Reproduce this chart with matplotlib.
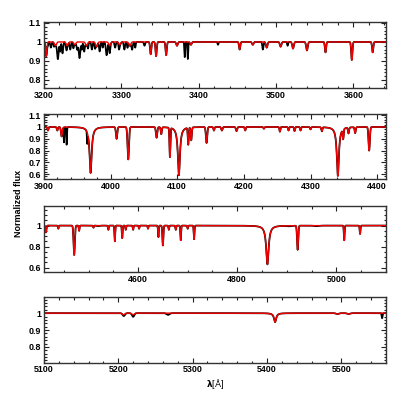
import numpy as np
import matplotlib.pyplot as plt
from matplotlib.ticker import MultipleLocator, FuncFormatter

plt.rcParams['font.family'] = ['Liberation Sans', 'DejaVu Sans']
plt.rcParams['font.weight'] = 'bold'
plt.rcParams['font.size'] = 6.4

# panel ranges
x_lo = [3200, 3900, 4410, 5100]
x_hi = [3642, 4413, 5100, 5560]
y_lo = [0.758, 0.558, 0.559, 0.707]
y_hi = [1.103, 1.11, 1.187, 1.095]
x_major = [100, 100, 200, 100]
x_minor = [20, 20, 50, 20]
y_major = [0.1, 0.1, 0.2, 0.1]
y_minor = [0.02, 0.02, 0.05, 0.02]

# model (red) lines: centre [A], depth, width [A], shape g=gauss l=lorentz
p1_wl = [3203, 3215, 3230, 3240, 3255, 3268, 3285, 3298, 3311, 3338, 3345,
         3358, 3372, 3390, 3453, 3470, 3488, 3506, 3522, 3540, 3564, 3598, 3625]
p1_dep = [0.075, 0.02, 0.02, 0.015, 0.02, 0.025, 0.02, 0.015, 0.02, 0.065,
          0.075, 0.07, 0.02, 0.015, 0.04, 0.015, 0.03, 0.025, 0.035, 0.045,
          0.055, 0.095, 0.055]
p1_wid = [0.8, 1.2, 1.2, 1.2, 1.2, 1.2, 1.2, 1.2, 1.2, 0.8, 0.8,
          0.8, 1.0, 1.0, 0.8, 1.0, 1.0, 1.0, 1.0, 1.0, 0.8, 0.8, 0.8]
p1_shape = ['g'] * len(p1_wl)

p2_wl = [3906, 3920, 3926.5, 3970, 4009, 4026.5, 4069, 4076, 4089, 4102.5,
         4116.5, 4121, 4144, 4155, 4167, 4189, 4202, 4230, 4254, 4267, 4276,
         4285, 4300, 4317, 4341, 4349, 4357, 4367, 4388]
p2_dep = [0.03, 0.03, 0.08, 0.39, 0.10, 0.275, 0.09, 0.06, 0.25, 0.41,
          0.145, 0.11, 0.135, 0.03, 0.03, 0.035, 0.03, 0.015, 0.04, 0.03, 0.035,
          0.03, 0.02, 0.035, 0.415, 0.085, 0.05, 0.05, 0.20]
p2_wid = [0.8, 0.8, 1.0, 1.9, 1.0, 1.1, 1.0, 0.8, 0.7, 1.9,
          0.7, 0.8, 1.0, 0.8, 1.0, 1.0, 0.8, 0.8, 0.7, 0.7, 0.7,
          0.7, 0.8, 0.8, 1.9, 0.7, 0.8, 0.8, 1.0]
p2_shape = ['g', 'g', 'g', 'l', 'g', 'g', 'g', 'g', 'g', 'l',
            'g', 'g', 'g', 'g', 'g', 'g', 'g', 'g', 'g', 'g', 'g',
            'g', 'g', 'g', 'l', 'g', 'g', 'g', 'g']

p3_wl = [4414, 4439, 4471, 4481, 4510, 4540, 4553, 4568, 4575, 4590, 4602,
         4620, 4641, 4650, 4662, 4676, 4686, 4700, 4713, 4861, 4922, 5016, 5048]
p3_dep = [0.065, 0.03, 0.28, 0.05, 0.02, 0.04, 0.15, 0.12, 0.04, 0.04, 0.03,
          0.03, 0.11, 0.19, 0.04, 0.04, 0.14, 0.03, 0.13, 0.37, 0.23, 0.14, 0.08]
p3_wid = [1.0, 0.8, 1.3, 0.8, 0.8, 0.8, 0.8, 0.8, 0.8, 0.8, 0.8,
          0.8, 0.8, 1.0, 0.8, 0.8, 0.8, 0.8, 0.8, 3.0, 1.2, 0.8, 0.8]
p3_shape = ['g'] * 19 + ['l'] + ['g'] * 3

p4_wl = [5207, 5220, 5411, 5495, 5510]
p4_dep = [0.01, 0.01, 0.053, 0.005, 0.005]
p4_wid = [1.5, 1.5, 1.8, 2.0, 2.0]
p4_shape = ['g', 'g', 'l', 'g', 'g']

# extra features seen only in the observed (black) spectrum
b1_wl = [3205, 3209, 3213, 3218, 3221, 3224, 3229, 3234, 3238, 3243, 3246,
         3249, 3252, 3257, 3262, 3266, 3272, 3276, 3281, 3285, 3292, 3297,
         3304, 3308, 3314, 3318, 3330, 3382, 3386, 3425, 3483, 3515]
b1_dep = [0.02, 0.03, 0.02, 0.09, 0.05, 0.06, 0.03, 0.04, 0.03, 0.04, 0.085,
          0.04, 0.05, 0.03, 0.04, 0.03, 0.05, 0.03, 0.07, 0.04, 0.03, 0.03,
          0.04, 0.03, 0.04, 0.03, 0.02, 0.08, 0.09, 0.015, 0.04, 0.02]
b1_wid = [0.6, 0.8, 0.6, 1.0, 0.6, 0.8, 0.8, 0.8, 0.6, 0.8, 1.0,
          0.6, 0.8, 0.6, 0.8, 0.6, 0.8, 0.6, 1.0, 0.6, 0.8, 0.6,
          0.8, 0.6, 0.8, 0.6, 0.8, 0.5, 0.5, 0.6, 0.7, 0.6]

b2_wl = [3930, 3934, 3965]
b2_dep = [0.13, 0.15, 0.1]
b2_wid = [0.5, 0.5, 0.5]

b3_wl = [4520, 4905, 4960]
b3_dep = [0.005, 0.005, 0.005]
b3_wid = [3.0, 5.0, 5.0]

b4_wl = [5208, 5220, 5267, 5555]
b4_dep = [0.008, 0.012, 0.01, 0.03]
b4_wid = [1.5, 1.5, 2.0, 0.6]

red_lines = [(p1_wl, p1_dep, p1_wid, p1_shape), (p2_wl, p2_dep, p2_wid, p2_shape),
             (p3_wl, p3_dep, p3_wid, p3_shape), (p4_wl, p4_dep, p4_wid, p4_shape)]
black_lines = [(b1_wl, b1_dep, b1_wid), (b2_wl, b2_dep, b2_wid),
               (b3_wl, b3_dep, b3_wid), (b4_wl, b4_dep, b4_wid)]


def absorb(wl, cen, dep, wid, shape=None):
    flux = np.ones_like(wl)
    if shape is None:
        shape = ['g'] * len(cen)
    for c, d, w, s in zip(cen, dep, wid, shape):
        if s == 'l':
            prof = 1.0 / (1.0 + ((wl - c) / w) ** 2)
        else:
            prof = np.exp(-0.5 * ((wl - c) / w) ** 2)
        flux *= 1.0 - d * prof
    return flux


fig = plt.figure(figsize=(4.07, 4.07), dpi=100)
bottoms = [0.784, 0.560, 0.332, 0.109]
heights = [0.161, 0.160, 0.162, 0.161]

for i in range(4):
    ax = fig.add_axes([0.108, bottoms[i], 0.840, heights[i]])
    wl = np.arange(x_lo[i], x_hi[i], 0.25)
    model = absorb(wl, *red_lines[i])
    obs = model * absorb(wl, *black_lines[i])
    ax.plot(wl, obs, color='black', lw=1.25)
    ax.plot(wl, model, color='#f00000', lw=1.0)

    ax.set_xlim(x_lo[i], x_hi[i])
    ax.set_ylim(y_lo[i], y_hi[i])
    ax.xaxis.set_major_locator(MultipleLocator(x_major[i]))
    ax.xaxis.set_minor_locator(MultipleLocator(x_minor[i]))
    ax.yaxis.set_major_locator(MultipleLocator(y_major[i]))
    ax.yaxis.set_minor_locator(MultipleLocator(y_minor[i]))
    ax.yaxis.set_major_formatter(FuncFormatter(lambda v, p: '%g' % round(v, 2)))
    ax.tick_params(which='both', direction='in', top=True, right=True,
                   width=0.8, colors='#222222', labelcolor='black', pad=2)
    ax.tick_params(which='major', length=3.5)
    ax.tick_params(which='minor', length=1.8)
    for sp in ax.spines.values():
        sp.set_linewidth(1.0)
        sp.set_color('#333333')
    if i == 3:
        ax.set_xlabel(r'$\mathbf{\lambda}$[Å]', labelpad=2, fontsize=6.5)

fig.text(0.045, 0.5, 'Normalized flux', rotation=90, va='center', ha='center',
         fontsize=6.5)

fig.savefig('out.png', dpi=100)
